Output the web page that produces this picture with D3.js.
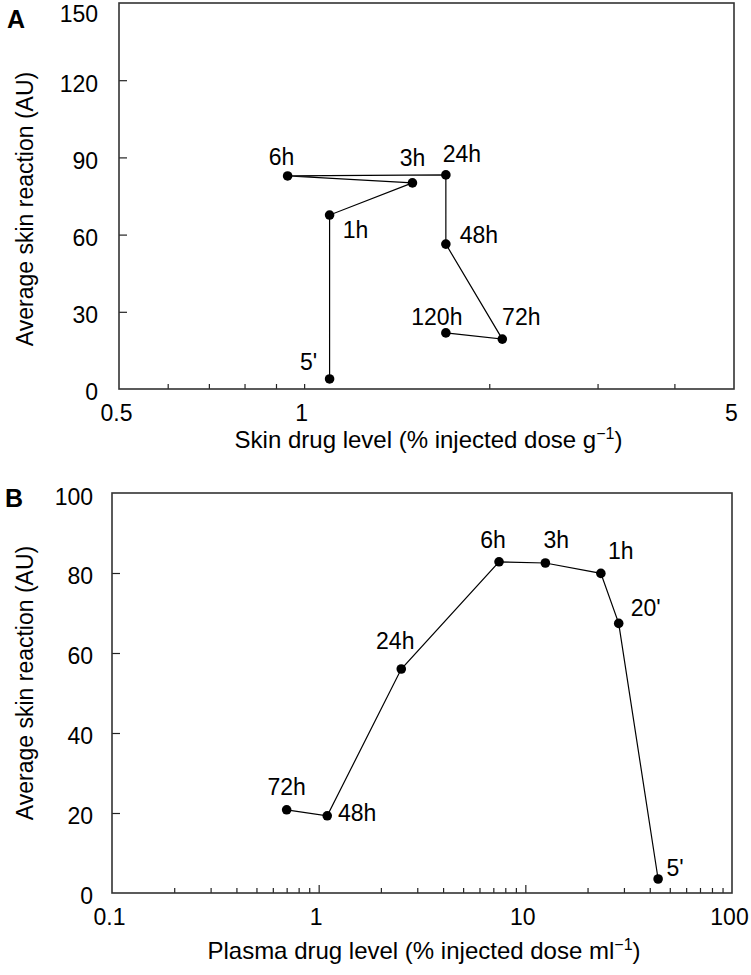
<!DOCTYPE html>
<html>
<head>
<meta charset="utf-8">
<script src="https://cdn.jsdelivr.net/npm/d3@7"></script>
<style>
  body { margin: 0; background: #fff; }
  svg { display: block; font-family: "Liberation Sans", Arial, sans-serif; }
</style>
</head>
<body>
<div id="chart"></div>
<script>
// panel A: skin drug level vs skin reaction
const skinTimes = ["5'", "1h", "3h", "6h", "24h", "48h", "72h", "120h"];
const skinLevel = [1.10, 1.10, 1.50, 0.94, 1.70, 1.70, 2.10, 1.70];
const skinReaction = [3.9, 67.6, 80.1, 82.8, 83.2, 56.3, 19.4, 21.8];
const skinXTicks = [0.5, 1, 5];
const skinXMinor = [0.6, 0.7, 0.8, 0.9, 1, 2, 3, 4];
const skinYTicks = [0, 30, 60, 90, 120, 150];

// panel B: plasma drug level vs skin reaction
const plasmaTimes = ["5'", "20'", "1h", "3h", "6h", "24h", "48h", "72h"];
const plasmaLevel = [43.9, 28.3, 23.2, 12.5, 7.46, 2.51, 1.10, 0.70];
const plasmaReaction = [3.5, 67.4, 79.9, 82.5, 82.8, 56.0, 19.3, 20.8];
const plasmaXTicks = [0.1, 1, 10, 100];
const plasmaXMinor = [0.2, 0.3, 0.4, 0.5, 0.6, 0.7, 0.8, 0.9, 2, 3, 4, 5, 6, 7, 8, 9, 20, 30, 40, 50, 60, 70, 80, 90];
const plasmaXMajor = [1, 10];
const plasmaYTicks = [0, 20, 40, 60, 80, 100];

const svg = d3.select("#chart").append("svg")
  .attr("width", 751)
  .attr("height", 975);

// label offsets from each point (layout only)
const skinLabelPos = [[-21, -17], [26, 15], [0, -25], [-6, -19], [16, -21], [33, -9], [19, -22], [-9, -16]];
const plasmaLabelPos = [[17, -11], [27, -15], [20, -22], [11, -23], [-6, -22], [-6, -28], [30, -3], [0, -23]];

drawPanel({
  letter: "A", letterPos: [16, 19],
  left: 119, right: 734, top: 3, bottom: 389,
  xDomain: [0.5, 5], yDomain: [0, 150],
  xTicks: skinXTicks, xMinor: skinXMinor, xMajor: [], yTicks: skinYTicks,
  yLabelPad: 21, topLabelMin: 15,
  xs: skinLevel, ys: skinReaction, names: skinTimes, labelPos: skinLabelPos,
  xTitle: "Skin drug level (% injected dose g", xTitleY: 440,
  yTitleX: 25, yTitleShift: 13
});

drawPanel({
  letter: "B", letterPos: [14, 498],
  left: 112, right: 732, top: 493, bottom: 893,
  xDomain: [0.1, 100], yDomain: [0, 100],
  xTicks: plasmaXTicks, xMinor: plasmaXMinor, xMajor: plasmaXMajor, yTicks: plasmaYTicks,
  yLabelPad: 19, topLabelMin: 498,
  xs: plasmaLevel, ys: plasmaReaction, names: plasmaTimes, labelPos: plasmaLabelPos,
  xTitle: "Plasma drug level (% injected dose ml", xTitleY: 951,
  yTitleX: 25, yTitleShift: -10
});

function drawPanel(p) {
  const g = svg.append("g");

  const x = d3.scaleLog().domain(p.xDomain).range([p.left, p.right]);
  const y = d3.scaleLinear().domain(p.yDomain).range([p.bottom, p.top]);

  // minor ticks, pointing inwards
  g.append("g")
    .attr("transform", `translate(0, ${p.bottom})`)
    .call(d3.axisBottom(x).tickValues(p.xMinor).tickSize(-5).tickFormat(""))
    .call(a => a.select(".domain").remove());

  g.append("g")
    .attr("transform", `translate(0, ${p.bottom})`)
    .call(d3.axisBottom(x).tickValues(p.xMajor).tickSize(-8).tickFormat(""))
    .call(a => a.select(".domain").remove());

  // x tick labels
  g.append("g")
    .attr("transform", `translate(-3, ${p.bottom})`)
    .call(d3.axisBottom(x).tickValues(p.xTicks).tickSize(0).tickPadding(16).tickFormat(d => d))
    .call(a => a.select(".domain").remove())
    .selectAll("text")
    .attr("font-size", 23)
    .attr("font-family", "Liberation Sans, Arial, sans-serif")
    .attr("fill", "#000");

  // y ticks inwards
  g.append("g")
    .attr("transform", `translate(${p.left}, 0)`)
    .call(d3.axisLeft(y).tickValues(p.yTicks.slice(1, -1)).tickSize(-8).tickFormat(""))
    .call(a => a.select(".domain").remove());

  g.append("g")
    .attr("transform", `translate(${p.left}, 4)`)
    .call(d3.axisLeft(y).tickValues(p.yTicks).tickSize(0).tickPadding(p.yLabelPad))
    .call(a => a.select(".domain").remove())
    .call(a => a.selectAll(".tick")
      .attr("transform", d => `translate(0, ${Math.max(y(d), p.topLabelMin - 4)})`))
    .selectAll("text")
    .attr("font-size", 23)
    .attr("font-family", "Liberation Sans, Arial, sans-serif")
    .attr("fill", "#000");

  g.selectAll(".tick line").attr("stroke", "#222").attr("stroke-width", 1.2);

  // frame
  g.append("rect")
    .attr("x", p.left)
    .attr("y", p.top)
    .attr("width", p.right - p.left)
    .attr("height", p.bottom - p.top)
    .attr("fill", "none")
    .attr("stroke", "#333")
    .attr("stroke-width", 1.6);

  const pts = p.xs.map((v, i) => [x(v), y(p.ys[i])]);

  g.append("path")
    .attr("d", d3.line()(pts))
    .attr("fill", "none")
    .attr("stroke", "#000")
    .attr("stroke-width", 1.2);

  g.selectAll("circle.pt")
    .data(pts)
    .join("circle")
    .attr("class", "pt")
    .attr("cx", d => d[0])
    .attr("cy", d => d[1])
    .attr("r", 4.8)
    .attr("fill", "#000");

  g.selectAll("text.lbl")
    .data(p.names)
    .join("text")
    .attr("class", "lbl")
    .attr("x", (d, i) => pts[i][0] + p.labelPos[i][0])
    .attr("y", (d, i) => pts[i][1] + p.labelPos[i][1])
    .attr("dy", "0.35em")
    .attr("text-anchor", "middle")
    .attr("font-size", 23)
    .text(d => d);

  // x title with superscript
  const xt = g.append("text")
    .attr("x", (p.left + p.right) / 2 + 2)
    .attr("y", p.xTitleY)
    .attr("dy", "0.35em")
    .attr("text-anchor", "middle")
    .attr("font-size", 24);
  xt.append("tspan").text(p.xTitle);
  xt.append("tspan").attr("font-size", 16).attr("dy", -9).text("\u22121");
  xt.append("tspan").attr("dy", 9).text(")");

  // y title
  g.append("text")
    .attr("transform", `translate(${p.yTitleX}, ${(p.top + p.bottom) / 2 + p.yTitleShift}) rotate(-90)`)
    .attr("dy", "0.35em")
    .attr("text-anchor", "middle")
    .attr("font-size", 23)
    .text("Average skin reaction (AU)");

  g.append("text")
    .attr("x", p.letterPos[0])
    .attr("y", p.letterPos[1])
    .attr("dy", "0.35em")
    .attr("text-anchor", "middle")
    .attr("font-size", 25)
    .attr("font-weight", "bold")
    .text(p.letter);
}
</script>
</body>
</html>
